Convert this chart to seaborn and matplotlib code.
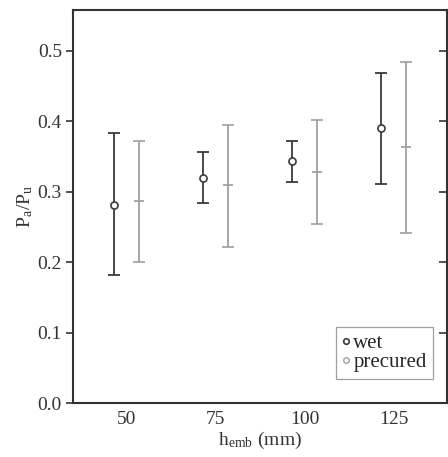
import numpy as np
import pandas as pd
import matplotlib
matplotlib.use("Agg")
import matplotlib.pyplot as plt
import seaborn as sns
from matplotlib.lines import Line2D

## Data
h_emb = [50, 75, 100, 125]
wet_mean = [0.281, 0.320, 0.344, 0.390]
wet_low = [0.182, 0.284, 0.314, 0.311]
wet_high = [0.383, 0.356, 0.372, 0.469]
pre_mean = [0.287, 0.310, 0.328, 0.364]
pre_low = [0.200, 0.222, 0.254, 0.242]
pre_high = [0.372, 0.395, 0.402, 0.484]
offset = 3.5

wet_color = "#3a3a3a"
pre_color = "#a0a0a0"
fs = 14

sns.set_theme(style="ticks")
plt.rcParams["font.family"] = ["Liberation Serif", "DejaVu Serif"]
plt.rcParams["mathtext.fontset"] = "stix"

fig, ax = plt.subplots(figsize=(4.48, 4.57), dpi=100)

x = np.array(h_emb, dtype=float)
wet = pd.DataFrame({"x": x - offset, "y": wet_mean})
pre = pd.DataFrame({"x": x + offset, "y": pre_mean})

## error bars
ax.errorbar(wet["x"], wet["y"],
            yerr=[np.array(wet_mean) - wet_low, np.array(wet_high) - wet_mean],
            fmt="none", ecolor=wet_color, elinewidth=1.3, capsize=4, capthick=1.3)
ax.errorbar(pre["x"], pre["y"],
            yerr=[np.array(pre_mean) - pre_low, np.array(pre_high) - pre_mean],
            fmt="none", ecolor=pre_color, elinewidth=1.3, capsize=4, capthick=1.2)

## centre markers
sns.scatterplot(data=wet, x="x", y="y", ax=ax, marker="o", s=26,
                facecolor="white", edgecolor=wet_color, linewidth=1.2, zorder=3)
sns.scatterplot(data=pre, x="x", y="y", ax=ax, marker="_", s=60,
                color=pre_color, linewidth=1.3, zorder=3)

ax.set_xlim(35, 140)
ax.set_ylim(0, 0.558)
ax.set_xticks(h_emb)
ax.set_xticklabels([str(v) for v in h_emb])
ax.set_yticks([0.0, 0.1, 0.2, 0.3, 0.4, 0.5])
ax.set_yticklabels(["0.0", "0.1", "0.2", "0.3", "0.4", "0.5"])
ax.tick_params(axis="x", length=0, labelsize=fs, pad=6, colors="#333333")
ax.tick_params(axis="y", left=True, right=True, direction="out", length=5,
               width=1.2, labelsize=fs, pad=3, color="#333333", labelcolor="#333333")
# right ticks point inward
for t in ax.yaxis.get_major_ticks():
    t.tick2line.set_marker(matplotlib.lines.TICKLEFT)
    t.tick2line.set_markersize(6)

for s in ax.spines.values():
    s.set_visible(True)
    s.set_linewidth(1.5)
    s.set_color("#333333")

ax.set_xlabel(r"h$_\mathregular{emb}$ (mm)", fontsize=fs, labelpad=1, color="#333333")
ax.set_ylabel(r"P$_\mathregular{a}$/P$_\mathregular{u}$", fontsize=fs, labelpad=2, color="#333333")

handles = [
    Line2D([], [], ls="none", marker="o", ms=4, mfc="white", mec=wet_color, mew=1.2),
    Line2D([], [], ls="none", marker="o", ms=4, mfc="white", mec=pre_color, mew=1.0),
]
leg = ax.legend(handles, ["wet", "precured"], loc="lower right",
                bbox_to_anchor=(0.962, 0.062), fontsize=fs + 1, frameon=True,
                fancybox=False, edgecolor="#888888", handlelength=0.4,
                handletextpad=0.15, borderpad=0.3, labelspacing=0.0,
                borderaxespad=0.0)
leg.get_frame().set_linewidth(0.9)

fig.subplots_adjust(left=0.163, right=0.998, top=0.978, bottom=0.118)
fig.savefig("out.png", dpi=100)
